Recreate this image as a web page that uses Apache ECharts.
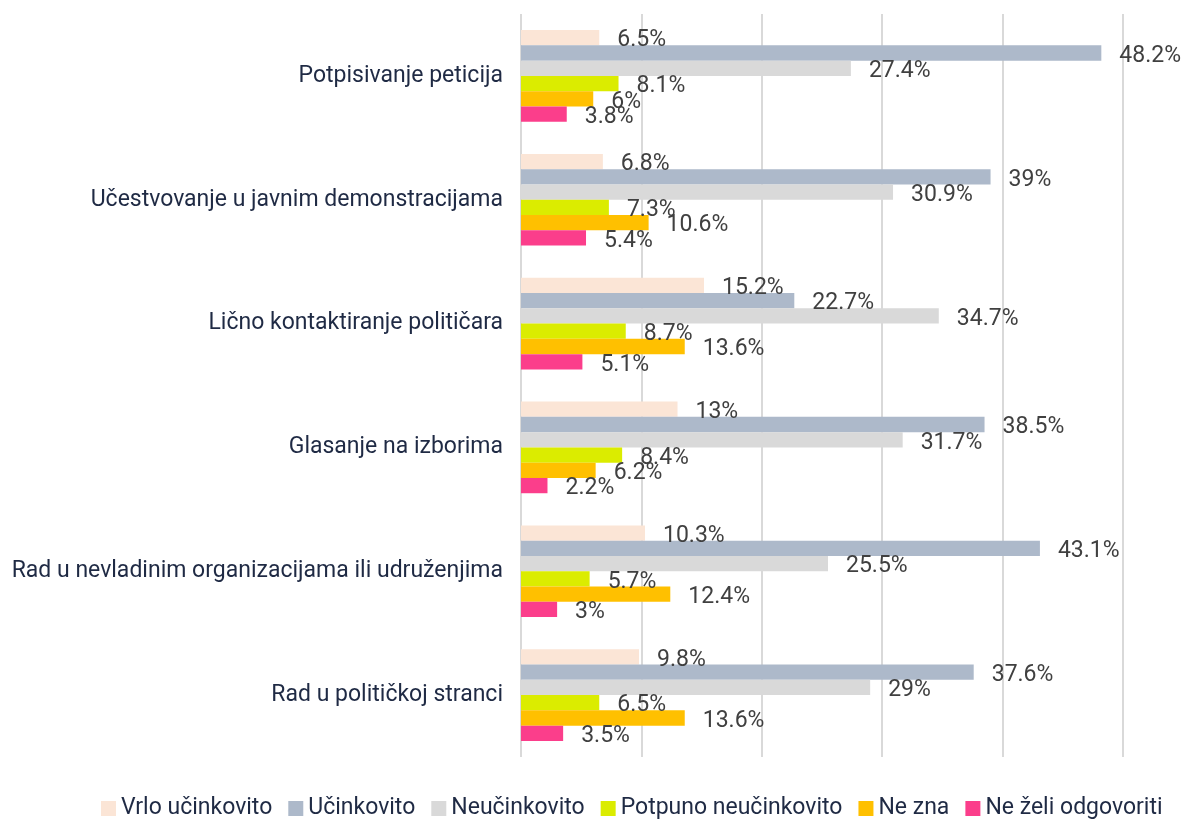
<!DOCTYPE html>
<html>
<head>
<meta charset="utf-8">
<script src="https://cdn.jsdelivr.net/npm/echarts@6/dist/echarts.min.js"></script>
<style>
  html, body { margin: 0; padding: 0; background: #fff; }
  #chart { width: 1183px; height: 821px; }
</style>
</head>
<body>
<div id="chart"></div>
<script>
var categories = [
  'Potpisivanje peticija',
  'Učestvovanje u javnim demonstracijama',
  'Lično kontaktiranje političara',
  'Glasanje na izborima',
  'Rad u nevladinim organizacijama ili udruženjima',
  'Rad u političkoj stranci'
];

var seriesNames = ['Vrlo učinkovito', 'Učinkovito', 'Neučinkovito', 'Potpuno neučinkovito', 'Ne zna', 'Ne želi odgovoriti'];
var colors = ['#fbe5d6', '#adb9ca', '#d9d9d9', '#dbec00', '#ffc000', '#fb3e8b'];

var vrloUcinkovito = [6.5, 6.8, 15.2, 13, 10.3, 9.8];
var ucinkovito = [48.2, 39, 22.7, 38.5, 43.1, 37.6];
var neucinkovito = [27.4, 30.9, 34.7, 31.7, 25.5, 29];
var potpunoNeucinkovito = [8.1, 7.3, 8.7, 8.4, 5.7, 6.5];
var neZna = [6, 10.6, 13.6, 6.2, 12.4, 13.6];
var neZeliOdgovoriti = [3.8, 5.4, 5.1, 2.2, 3, 3.5];

var values = [vrloUcinkovito, ucinkovito, neucinkovito, potpunoNeucinkovito, neZna, neZeliOdgovoriti];

var font = 'Roboto, sans-serif';

var chart = echarts.init(document.getElementById('chart'));

var series = seriesNames.map(function (name, i) {
  return {
    name: name,
    type: 'bar',
    data: values[i],
    barGap: '0%',
    barCategoryGap: '26%',
    itemStyle: { color: colors[i] },
    label: {
      show: true,
      position: 'right',
      distance: 18,
      offset: [0, 3],
      formatter: '{c}%',
      color: '#404040',
      fontSize: 23,
      fontFamily: font
    }
  };
});

var option = {
  animation: false,
  textStyle: { fontFamily: font },
  grid: {
    left: 521,
    right: 60,
    top: 14,
    bottom: 64
  },
  legend: {
    bottom: -4,
    left: 96,
    itemWidth: 15,
    itemHeight: 15,
    itemGap: 16,
    icon: 'rect',
    textStyle: { color: '#1f2a44', fontSize: 23, fontFamily: font },
    data: seriesNames
  },
  xAxis: {
    type: 'value',
    min: 0,
    max: 50,
    interval: 10,
    axisLabel: { show: false },
    axisLine: { show: false },
    axisTick: { show: false },
    splitLine: { show: true, lineStyle: { color: '#d9d9d9', width: 2 } }
  },
  yAxis: {
    type: 'category',
    inverse: true,
    data: categories,
    axisLine: { show: false },
    axisTick: { show: false },
    axisLabel: {
      color: '#1f2a44',
      fontSize: 23,
      margin: 18,
      fontFamily: font
    }
  },
  series: series
};

chart.setOption(option);
</script>
</body>
</html>
